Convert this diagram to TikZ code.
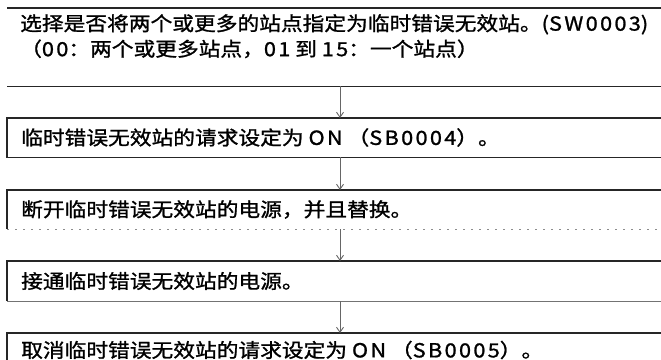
\documentclass[tikz,border=0pt]{standalone}
\usepackage{fontspec}
\setmainfont{Noto Sans CJK SC}[FakeStretch=1.12, FakeBold=1.2]
\newfontfamily\lat{Noto Sans CJK SC}[FakeStretch=1.12, FakeBold=1.2, LetterSpace=12]
\usetikzlibrary{arrows.meta}
\newcommand{\la}[1]{{\lat #1}}
\begin{document}
\begin{tikzpicture}[x=1pt,y=-1pt,
  frame/.style={rectangle, anchor=north west, minimum width=690pt, inner sep=0pt},
  edge/.style={line width=1.1pt, black!85},
  faint/.style={line width=0.9pt, black!45, dash pattern=on 2pt off 6pt},
  grayedge/.style={line width=1pt, black!55},
  arr/.style={draw=black!60, line width=0.9pt, -{Straight Barb[length=5pt,width=7pt]}},
  txt/.style={font=\fontsize{19.4}{25.5}\selectfont, inner sep=0pt, anchor=west, align=left}]
\clip (0,0) rectangle (661,359);
\coordinate (ax) at (340,0);
% box 1
\node[frame, minimum height=78pt] (b1) at (7,8) {};
\draw[edge] (b1.north west) -- (b1.north east);
\draw[edge] (b1.south west) -- (b1.south east);
\node[txt, anchor=north west] (t1) at (20,14) {选择是否将两个或更多的站点指定为临时错误无效站。(\la{SW0003})\\（\la{00}：两个或更多站点，\la{01} 到 \la{15}：一个站点）};
% box 2
\node[frame, minimum height=39pt] (b2) at (7,118) {};
\draw[edge] (b2.north east) -- (b2.north west) -- (b2.south west) -- (b2.south east);
\node[txt] (t2) at (21,137.5) {临时错误无效站的请求设定为 \la{ON} （\la{SB0004}）。};
% box 3
\node[frame, minimum height=39pt] (b3) at (7,190) {};
\draw[edge] (b3.north east) -- (b3.north west) -- (b3.south west);
\draw[faint] (b3.south west) -- (b3.south east);
\node[txt] (t3) at (21,209.5) {断开临时错误无效站的电源，并且替换。};
% box 4
\node[frame, minimum height=40pt] (b4) at (7,261) {};
\draw[edge] (b4.north east) -- (b4.north west) -- (b4.south west);
\draw[grayedge] (b4.south west) -- (b4.south east);
\node[txt] (t4) at (21,281) {接通临时错误无效站的电源。};
% box 5
\node[frame, minimum height=39pt] (b5) at (7,333) {};
\draw[edge] (b5.north east) -- (b5.north west) -- (b5.south west);
\node[txt] (t5) at (21,350) {取消临时错误无效站的请求设定为 \la{ON} （\la{SB0005}）。};
% arrows
\draw[arr] (b1.south -| ax) -- (b2.north -| ax);
\draw[arr] (b2.south -| ax) -- (b3.north -| ax);
\draw[arr] (b3.south -| ax) -- (b4.north -| ax);
\draw[arr] (b4.south -| ax) -- (b5.north -| ax);
\end{tikzpicture}
\end{document}
